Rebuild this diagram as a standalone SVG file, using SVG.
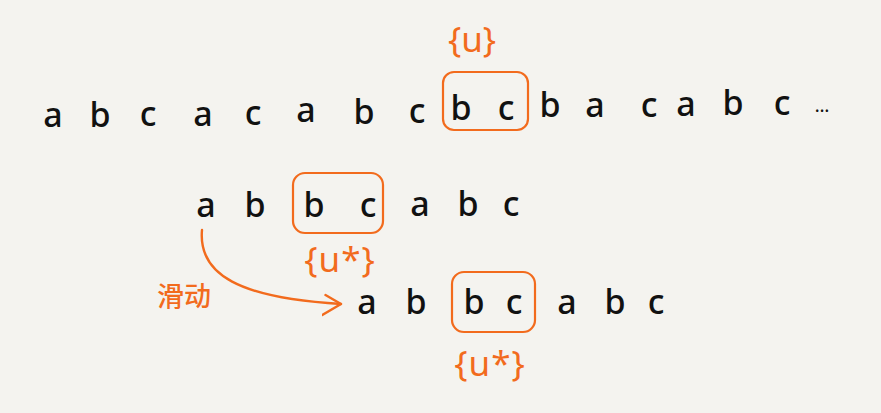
<svg xmlns="http://www.w3.org/2000/svg" width="881" height="413" viewBox="0 0 881 413">
<defs>
<style>
.l{font-family:"Noto Sans","DejaVu Sans",sans-serif;font-size:34px;font-weight:500;fill:#111;text-anchor:middle}
.o{font-family:"Noto Sans","DejaVu Sans",sans-serif;font-size:35px;fill:#f26b1d;text-anchor:middle}
.z{font-family:"Noto Sans CJK SC",sans-serif;font-size:27px;fill:#f26b1d;font-weight:500}
.box{fill:none;stroke:#f26b1d;stroke-width:2.2}
.arr{fill:none;stroke:#f26b1d;stroke-width:2.4;stroke-linecap:round;stroke-linejoin:round}
</style>
<marker id="ah" markerUnits="userSpaceOnUse" markerWidth="24" markerHeight="30" refX="18" refY="12" orient="auto" viewBox="0 0 24 30">
<path d="M2,4 L18,12 L0,24" fill="none" stroke="#f26b1d" stroke-width="2.4" stroke-linecap="round" stroke-linejoin="round"/>
</marker>
</defs>
<rect width="881" height="413" fill="#f4f3ef"/>
<g id="row1">
<text class="l" x="53" y="127">a</text>
<text class="l" x="100" y="127">b</text>
<text class="l" x="148" y="126">c</text>
<text class="l" x="203" y="126">a</text>
<text class="l" x="253" y="125">c</text>
<text class="l" x="306" y="122">a</text>
<text class="l" x="364" y="124">b</text>
<text class="l" x="417" y="123">c</text>
<text class="l" x="461" y="120">b</text>
<text class="l" x="506" y="120">c</text>
<text class="l" x="550" y="117">b</text>
<text class="l" x="595" y="117">a</text>
<text class="l" x="649" y="117">c</text>
<text class="l" x="686" y="116">a</text>
<text class="l" x="733" y="115">b</text>
<text class="l" x="782" y="115">c</text>
<text class="l" x="822" y="112" style="font-size:18px">…</text>
</g>
<g id="box1"><rect class="box" x="443" y="72" width="85" height="58" rx="11"/></g>
<g id="label1"><text class="o" x="472" y="52">{u}</text></g>
<g id="row2">
<text class="l" x="206" y="217">a</text>
<text class="l" x="255" y="217">b</text>
<text class="l" x="314" y="217">b</text>
<text class="l" x="368" y="217">c</text>
<text class="l" x="420" y="216">a</text>
<text class="l" x="468" y="216">b</text>
<text class="l" x="511" y="216">c</text>
</g>
<g id="box2"><rect class="box" x="293" y="173" width="90" height="60" rx="12"/></g>
<g id="label2"><text class="o" x="340" y="272" style="letter-spacing:1px">{u*}</text></g>
<g id="row3">
<text class="l" x="367" y="314">a</text>
<text class="l" x="416" y="314">b</text>
<text class="l" x="474" y="314">b</text>
<text class="l" x="514" y="314">c</text>
<text class="l" x="567" y="314">a</text>
<text class="l" x="615" y="314">b</text>
<text class="l" x="656" y="314">c</text>
</g>
<g id="box3"><rect class="box" x="452" y="272" width="83" height="60" rx="12"/></g>
<g id="label3"><text class="o" x="490" y="376" style="letter-spacing:1px">{u*}</text></g>
<g id="slide"><text class="z" x="157" y="306">滑动</text></g>
<g id="connectors">
<path class="arr" d="M202,230 C198,275 240,298 341,304" marker-end="url(#ah)"/>
</g>
</svg>
